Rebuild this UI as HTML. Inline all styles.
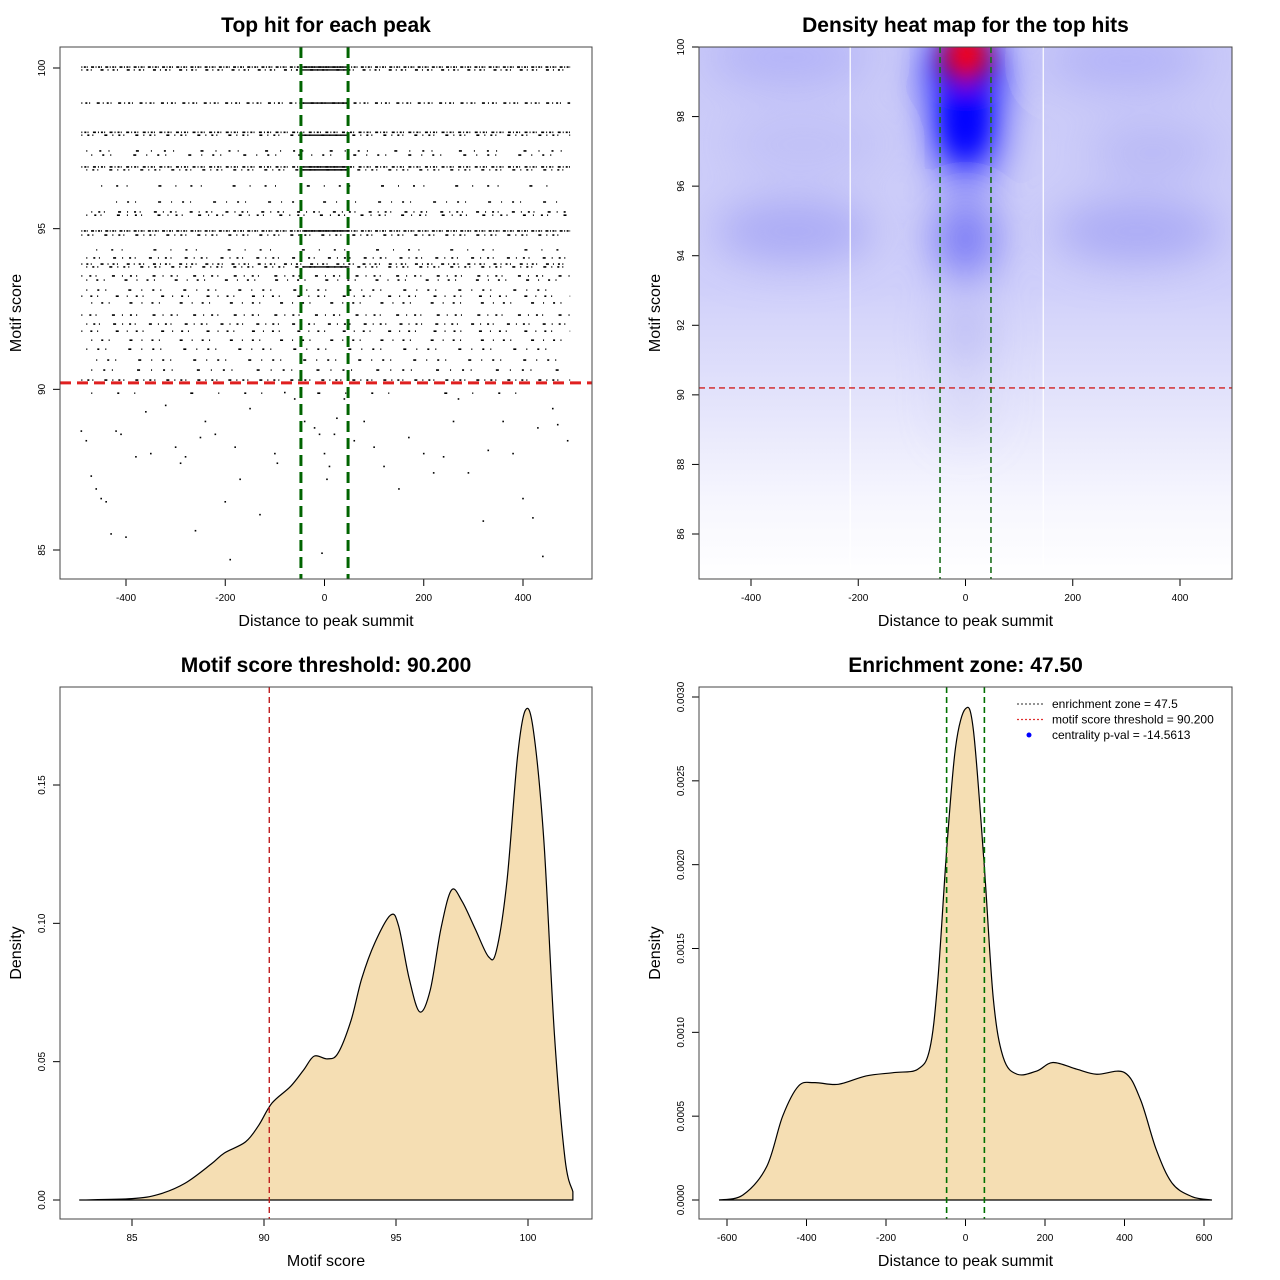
<!DOCTYPE html>
<html><head><meta charset="utf-8"><style>
html,body{margin:0;padding:0;background:#fff}
svg{display:block;font-family:"Liberation Sans",Arial,sans-serif}
</style></head><body>
<svg id="s" width="1280" height="1280" viewBox="0 0 1280 1280" xmlns="http://www.w3.org/2000/svg">
<defs>
<filter id="blurA" filterUnits="userSpaceOnUse" x="600" y="-100" width="800" height="800"><feGaussianBlur stdDeviation="22"/></filter>
<filter id="blurB" filterUnits="userSpaceOnUse" x="600" y="-100" width="800" height="800"><feGaussianBlur stdDeviation="12"/></filter>
<linearGradient id="hbg" x1="0" y1="0" x2="0" y2="1">
<stop offset="0" stop-color="#cacaf8"/><stop offset="0.45" stop-color="#d0d0fa"/><stop offset="0.65" stop-color="#e2e2fb"/><stop offset="0.85" stop-color="#f6f6fe"/><stop offset="1" stop-color="#ffffff"/></linearGradient>
<clipPath id="c2"><rect x="699" y="47" width="533" height="532"/></clipPath>
</defs>
<g id="root"></g>
</svg>
<script>
// ---------- data ----------
const rowScores = [100.03,99.94,98.91,98.0,97.91,97.42,97.29,96.92,96.83,96.33,95.83,95.52,95.42,94.93,94.8,94.34,94.09,93.9,93.81,93.53,93.4,93.09,92.9,92.69,92.31,92.03,91.81,91.53,91.25,90.91,90.6,90.29,89.88];
const rowGaps   = [1.5,4,3,2,5,12,10,2,5,14,10,6,7,1.5,5,14,6,4,5,7,9,10,8,9,7,6,8,9,10,10,11,5,25];
const rowStart  = [-490,-490,-490,-490,-490,-480,-470,-490,-480,-450,-420,-470,-480,-490,-490,-460,-480,-490,-480,-490,-480,-480,-490,-470,-490,-480,-490,-470,-480,-460,-470,-490,-470];
const rowEnd    = [495,495,495,495,495,495,490,495,495,460,480,490,490,495,490,480,495,495,495,495,490,490,495,490,495,490,495,495,490,485,490,495,470];
const centerScores = [100.03,99.94,98.91,97.91,96.92,96.83,94.93,93.81];
const lowX = [-490,-480,-470,-460,-450,-440,-430,-400,-420,-410,-380,-360,-350,-320,-300,-290,-280,-260,-250,-240,-220,-200,-190,-180,-170,-150,-130,-100,-95,-80,-60,-40,-20,-10,0,5,10,-5,20,25,40,60,80,100,120,150,170,200,220,240,260,270,290,320,330,360,380,400,420,430,440,460,470,490];
const lowY = [88.7,88.4,87.3,86.9,86.6,86.5,85.5,85.4,88.7,88.6,87.9,89.3,88.0,89.5,88.2,87.7,87.9,85.6,88.5,89.0,88.6,86.5,84.7,88.2,87.2,89.4,86.1,88.0,87.7,89.9,89.7,89.0,88.8,88.6,88.0,87.2,87.6,84.9,88.6,89.1,89.7,88.4,89.0,88.2,87.6,86.9,88.5,88.0,87.4,87.9,89.0,89.7,87.4,85.9,88.1,89.0,88.0,86.6,86.0,88.8,84.8,89.4,88.9,88.4];
// heatmap density blobs
const blobX   = [-330,-320,300,320,-300,350,0,0,0,0,0,0,0,5];
const blobS   = [99.7,94.7,99.6,94.7,97.2,97.0,99.2,97.5,94.5,91.8,89.8,97.9,99.7,99.9];
const blobSX  = [150,150,150,160,150,120,70,55,55,45,40,35,45,32];
const blobSY  = [0.8,0.9,0.8,0.9,0.8,0.7,1.4,1.3,1.2,1.0,1.0,1.0,0.8,0.6];
const blobCol = ['#a8a8f6','#a0a0f4','#a8a8f6','#a0a0f4','#b4b4f6','#a8a8f4','#0000ff','#0000ff','#5a5af4','#a8a8f2','#c8c8f6','#0000ff','#c00040','#ff0000'];
const blobOp  = [0.7,0.8,0.7,0.8,0.5,0.6,1,1,0.8,0.6,0.5,1,1,1];
// motif score density
const msX = [83,85,86,87,88,88.5,89.3,89.8,90.3,91,91.5,91.9,92.4,92.8,93.3,93.7,94.2,94.8,95.1,95.5,95.9,96.3,96.7,97.1,97.5,98,98.5,98.8,99.2,99.6,99.9,100.2,100.6,101,101.4,101.7];
const msY = [0,0.0005,0.002,0.006,0.013,0.017,0.021,0.027,0.035,0.041,0.047,0.052,0.051,0.053,0.065,0.080,0.093,0.103,0.099,0.080,0.068,0.076,0.098,0.112,0.108,0.098,0.088,0.090,0.115,0.160,0.177,0.170,0.130,0.060,0.015,0.003];
// distance density
const dsX = [-620,-560,-500,-460,-420,-380,-320,-250,-180,-120,-90,-70,-47,-25,0,20,47,70,95,130,180,220,280,330,400,440,480,520,570,620];
const dsY = [0,0.00003,0.0002,0.0005,0.00068,0.0007,0.00069,0.00074,0.00076,0.00078,0.0009,0.0013,0.0021,0.0027,0.00293,0.0028,0.0020,0.0012,0.00085,0.00075,0.00077,0.00082,0.00078,0.00075,0.00076,0.0006,0.0003,0.0001,0.00002,0];
const p1Xticks=[-400,-200,0,200,400], p1Yticks=[85,90,95,100];
const p2Xticks=[-400,-200,0,200,400], p2Yticks=[86,88,90,92,94,96,98,100];
const p3Xticks=[85,90,95,100], p3Yticks=[0,0.05,0.10,0.15], p3Ylab=['0.00','0.05','0.10','0.15'];
const p4Xticks=[-600,-400,-200,0,200,400,600], p4Yticks=[0,0.0005,0.001,0.0015,0.002,0.0025,0.003], p4Ylab=['0.0000','0.0005','0.0010','0.0015','0.0020','0.0025','0.0030'];
const zone=47.5, thr=90.2;

// ---------- helpers ----------
const NS='http://www.w3.org/2000/svg';
const root=document.getElementById('root');
function mk(tag,attrs,parent,txt){const e=document.createElementNS(NS,tag);for(const k in attrs)e.setAttribute(k,attrs[k]);if(txt!==undefined)e.textContent=txt;(parent||root).appendChild(e);return e;}
function lin(d0,d1,p0,p1){return v=>p0+(v-d0)*(p1-p0)/(d1-d0);}
function frame(box,title,xt,yt,name){
  const g=mk('g',{});
  
  
  const t=mk('text',{x:(box.x0+box.x1)/2,y:box.y0-15,'text-anchor':'middle','font-size':21,'font-weight':'bold'},g,title);
  
  const a=mk('text',{x:(box.x0+box.x1)/2,y:box.y1+47,'text-anchor':'middle','font-size':16},g,xt);
  
  const cy=(box.y0+box.y1)/2;
  const b=mk('text',{x:box.x0-39,y:cy,'text-anchor':'middle','font-size':16,transform:`rotate(-90 ${box.x0-39} ${cy})`},g,yt);
  
  return g;
}
function axes(g,box,sx,sy,xt,yt,xl,yl){
  const ax=mk('g',{stroke:'#000','stroke-width':1,fill:'none'},g);
  
  xt.forEach((v,i)=>{const x=sx(v);mk('line',{x1:x,x2:x,y1:box.y1,y2:box.y1+7},ax);
    const t=mk('text',{x:x,y:box.y1+22,'text-anchor':'middle','font-size':10,fill:'#000',stroke:'none'},ax,xl?xl[i]:String(v));
    });
  const ay=mk('g',{stroke:'#000','stroke-width':1,fill:'none'},g);
  
  yt.forEach((v,i)=>{const y=sy(v);mk('line',{x1:box.x0-7,x2:box.x0,y1:y,y2:y},ay);
    const tx=box.x0-15;
    const t=mk('text',{x:tx,y:y,'text-anchor':'middle','font-size':10,fill:'#000',stroke:'none',transform:`rotate(-90 ${tx} ${y})`},ay,yl?yl[i]:String(v));
    });
  const r=mk('rect',{x:box.x0,y:box.y0,width:box.x1-box.x0,height:box.y1-box.y0,fill:'none',stroke:'#444','stroke-width':1},g);
  
}
function smoothPath(pts){let d=`M${pts[0][0]},${pts[0][1]}`;
  for(let i=0;i<pts.length-1;i++){const p0=pts[i-1]||pts[i],p1=pts[i],p2=pts[i+1],p3=pts[i+2]||p2;
    d+=` C${p1[0]+(p2[0]-p0[0])/6},${p1[1]+(p2[1]-p0[1])/6} ${p2[0]-(p3[0]-p1[0])/6},${p2[1]-(p3[1]-p1[1])/6} ${p2[0]},${p2[1]}`;}
  return d;}

// ---------- panel 1: scatter ----------
{const box={x0:60,x1:592,y0:47,y1:579};
 const sx=lin(-400,400,126,523), sy=lin(85,100,550,68);
 const g=frame(box,'Top hit for each peak','Distance to peak summit','Motif score','scatter-panel');
 const pts=mk('g',{stroke:'#000','stroke-width':1.6},g);
 
 rowScores.forEach((s,i)=>{const y=sy(s);const gp=rowGaps[i];
   const l=mk('line',{x1:sx(rowStart[i]),x2:sx(rowEnd[i]),y1:y,y2:y,'stroke-dasharray':`1 ${gp} 2 ${gp*0.6} 1 ${gp*2.2} 3 ${gp}`},pts);
   });
 centerScores.forEach(s=>{const y=sy(s);const l=mk('line',{x1:sx(-45),x2:sx(50),y1:y,y2:y,'stroke-width':1.4},pts);
   });
 lowX.forEach((x,i)=>{const c=mk('rect',{x:sx(x)-0.8,y:sy(lowY[i])-0.8,width:1.6,height:1.6,fill:'#000',stroke:'none'},pts);
   });
 [-zone,zone].forEach(z=>{const l=mk('line',{x1:sx(z),x2:sx(z),y1:box.y0,y2:box.y1,stroke:'#006400','stroke-width':3,'stroke-dasharray':'11 6'},g);
   });
 const h=mk('line',{x1:box.x0,x2:box.x1,y1:sy(thr),y2:sy(thr),stroke:'#e02020','stroke-width':3,'stroke-dasharray':'11 6'},g);
 
 axes(g,box,sx,sy,p1Xticks,p1Yticks);}

// ---------- panel 2: heatmap ----------
{const box={x0:699,x1:1232,y0:47,y1:579};
 const sx=lin(-400,400,751,1180), sy=lin(86,100,534,47);
 const g=frame(box,'Density heat map for the top hits','Distance to peak summit','Motif score','heatmap-panel');
 const hm=mk('g',{'clip-path':'url(#c2)'},g);
 
 mk('rect',{x:box.x0,y:box.y0,width:533,height:532,fill:'url(#hbg)'},hm);
 const bl=mk('g',{filter:'url(#blurA)'},hm);
 const bl2=mk('g',{filter:'url(#blurB)'},hm);
 blobX.forEach((x,i)=>{const rx=Math.abs(sx(blobSX[i])-sx(0)),ry=Math.abs(sy(0)-sy(blobSY[i]));
   const e=mk('ellipse',{cx:sx(x),cy:sy(blobS[i]),rx:rx,ry:ry,fill:blobCol[i],opacity:blobOp[i]},i>=11?bl2:bl);
   });
 [sx(-215),sx(145)].forEach(x=>mk('line',{x1:x,x2:x,y1:box.y0,y2:box.y1-10,stroke:'#fff','stroke-width':1.2},hm));
 [-zone,zone].forEach(z=>{const l=mk('line',{x1:sx(z),x2:sx(z),y1:box.y0,y2:box.y1,stroke:'#1a6e1a','stroke-width':1.6,'stroke-dasharray':'6 4'},g);
   });
 const h=mk('line',{x1:box.x0,x2:box.x1,y1:sy(thr),y2:sy(thr),stroke:'#d02020','stroke-width':1.4,'stroke-dasharray':'6 4'},g);
 
 axes(g,box,sx,sy,p2Xticks,p2Yticks);}

// ---------- panel 3: motif score density ----------
{const box={x0:60,x1:592,y0:687,y1:1219};
 const sx=lin(85,100,132,528), sy=lin(0,0.15,1200,785);
 const g=frame(box,'Motif score threshold: 90.200','Motif score','Density','score-density-panel');
 const pts=msX.map((x,i)=>[sx(x),sy(msY[i])]);
 const p=mk('path',{d:smoothPath(pts)+` L${sx(msX[msX.length-1])},${sy(0)} Z`,fill:'#f5deb3',stroke:'#000','stroke-width':1.2},g);
 
 const l=mk('line',{x1:sx(thr),x2:sx(thr),y1:box.y0,y2:box.y1,stroke:'#c02020','stroke-width':1.4,'stroke-dasharray':'6 4'},g);
 
 axes(g,box,sx,sy,p3Xticks,p3Yticks,null,p3Ylab);}

// ---------- panel 4: distance density ----------
{const box={x0:699,x1:1232,y0:687,y1:1219};
 const sx=lin(-600,600,727,1204), sy=lin(0,0.003,1200,697);
 const g=frame(box,'Enrichment zone: 47.50','Distance to peak summit','Density','distance-density-panel');
 const pts=dsX.map((x,i)=>[sx(x),sy(dsY[i])]);
 const p=mk('path',{d:smoothPath(pts)+' Z',fill:'#f5deb3',stroke:'#000','stroke-width':1.2},g);
 
 [-zone,zone].forEach(z=>{const l=mk('line',{x1:sx(z),x2:sx(z),y1:box.y0,y2:box.y1,stroke:'#007000','stroke-width':1.6,'stroke-dasharray':'6 4'},g);
   });
 const lg=mk('g',{'font-size':12},g);
 
 const items=[['enrichment zone = 47.5','#555'],['motif score threshold = 90.200','#e03030'],['centrality p-val = -14.5613','#0000ff']];
 items.forEach((it,i)=>{const y=704+i*15.5;
   if(i<2)mk('line',{x1:1017,x2:1043,y1:y,y2:y,stroke:it[1],'stroke-width':1.2,'stroke-dasharray':'2 2'},lg);
   else mk('circle',{cx:1029,cy:y,r:2.5,fill:it[1]},lg);
   const t=mk('text',{x:1052,y:y+4},lg,it[0]);});
 axes(g,box,sx,sy,p4Xticks,p4Yticks,null,p4Ylab);}
</script>
</body></html>
